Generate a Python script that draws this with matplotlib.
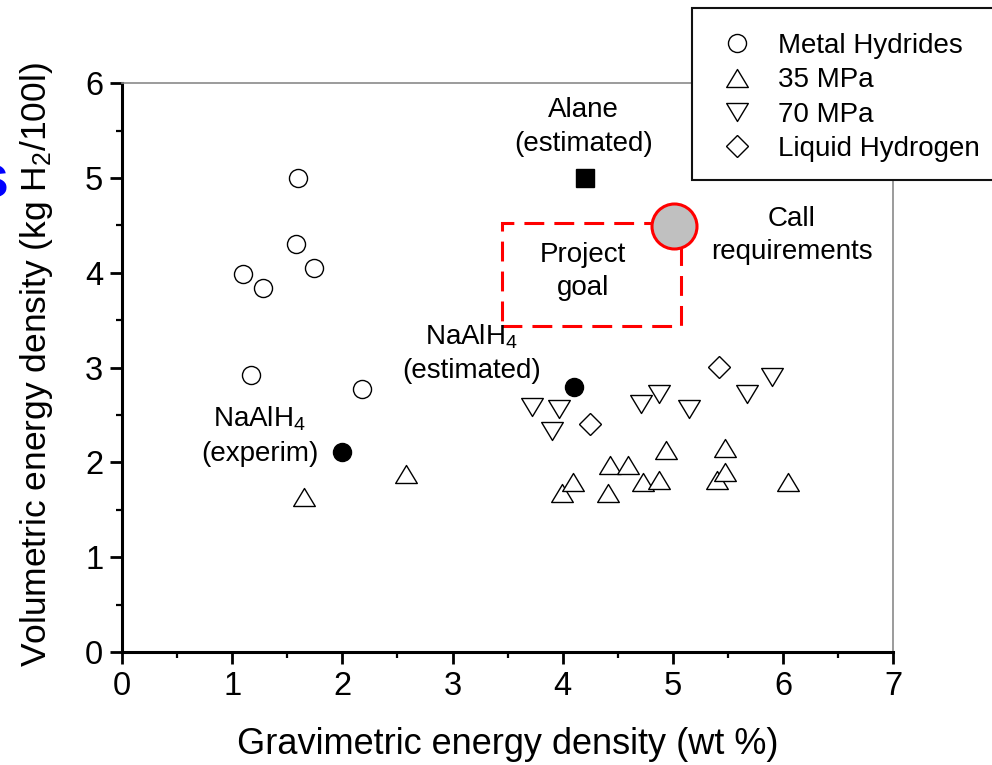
import matplotlib
matplotlib.use("Agg")
import matplotlib.pyplot as plt
from matplotlib.path import Path
from matplotlib.patches import Rectangle
import numpy as np

plt.rcParams['font.family'] = ['Liberation Sans', 'DejaVu Sans']
plt.rcParams['mathtext.default'] = 'regular'

# ---------------- data ----------------
metal_x = [1.60, 1.58, 1.10, 1.28, 1.745, 1.17, 2.18]
metal_y = [5.00, 4.30, 3.99, 3.84, 4.05, 2.92, 2.77]

mpa35_x = [3.99, 4.09, 4.41, 4.43, 4.59, 4.73, 4.87, 4.94, 5.40, 5.47, 5.47, 6.04, 1.65, 2.58]
mpa35_y = [1.68, 1.79, 1.68, 1.97, 1.97, 1.79, 1.81, 2.13, 1.81, 2.15, 1.90, 1.79, 1.64, 1.88]

mpa70_x = [3.72, 3.97, 3.90, 4.71, 4.87, 5.15, 5.67, 5.90]
mpa70_y = [2.59, 2.56, 2.33, 2.62, 2.72, 2.56, 2.72, 2.90]

lh2_x = [5.42, 4.25]
lh2_y = [3.01, 2.41]

naalh4_x = [2.00, 4.10]
naalh4_y = [2.11, 2.80]

alane_x = [4.20]
alane_y = [5.00]

call_x = [5.01]
call_y = [4.49]

goal_x = [3.45, 5.07]
goal_y = [3.44, 4.53]

legend_labels = ["Metal Hydrides", "35 MPa", "70 MPa", "Liquid Hydrogen"]
x_ticks = [0, 1, 2, 3, 4, 5, 6, 7]
y_ticks = [0, 1, 2, 3, 4, 5, 6]

# ---------------- figure ----------------
W, H = 992, 765
fig = plt.figure(figsize=(W / 100, H / 100), dpi=100)
ax = fig.add_axes([122 / W, 1 - 652 / H, (893.3 - 122) / W, (652 - 83.3) / H])

tri_up = Path([(0, 0.83), (-1, -0.83), (1, -0.83), (0, 0.83)],
              [Path.MOVETO, Path.LINETO, Path.LINETO, Path.CLOSEPOLY])
tri_dn = Path([(0, -0.83), (-1, 0.83), (1, 0.83), (0, -0.83)],
              [Path.MOVETO, Path.LINETO, Path.LINETO, Path.CLOSEPOLY])

mk = dict(linestyle='none', markerfacecolor='white', markeredgecolor='black', markeredgewidth=1.0)
h1, = ax.plot(metal_x, metal_y, marker='o', markersize=13, **mk)
h2, = ax.plot(mpa35_x, mpa35_y, marker=tri_up, markersize=15.6, **mk)
h3, = ax.plot(mpa70_x, mpa70_y, marker=tri_dn, markersize=15.6, **mk)
h4, = ax.plot(lh2_x, lh2_y, marker='D', markersize=11.4, **mk)

ax.plot(naalh4_x, naalh4_y, linestyle='none', marker='o', markersize=13,
        markerfacecolor='black', markeredgecolor='black')
ax.plot(alane_x, alane_y, linestyle='none', marker='s', markersize=12.8,
        markerfacecolor='black', markeredgecolor='black')

ax.add_patch(Rectangle((goal_x[0], goal_y[0]), goal_x[1] - goal_x[0], goal_y[1] - goal_y[0],
                       fill=False, edgecolor='#ff0000', linewidth=2.2,
                       linestyle=(0, (6.5, 3.3)), zorder=3))
ax.plot(call_x, call_y, linestyle='none', marker='o', markersize=32.4,
        markerfacecolor='#c0c0c0', markeredgecolor='#ff0000', markeredgewidth=2.2, zorder=4)

tfs = 20
ls = 1.38
ax.text(4.19, 5.54, "Alane\n(estimated)", ha='center', va='center', fontsize=tfs, linespacing=ls)
ax.text(4.18, 4.015, "Project\ngoal", ha='center', va='center', fontsize=tfs, linespacing=ls)
ax.text(6.08, 4.395, "Call\nrequirements", ha='center', va='center', fontsize=tfs, linespacing=ls)
ax.text(3.17, 3.15, "NaAlH$_4$\n(estimated)", ha='center', va='center', fontsize=tfs, linespacing=ls)
ax.text(1.25, 2.28, "NaAlH$_4$\n(experim)", ha='center', va='center', fontsize=tfs, linespacing=ls)

ax.set_xlim(0, 7)
ax.set_ylim(0, 6)
ax.set_xticks(x_ticks)
ax.set_yticks(y_ticks)
ax.set_xticks(np.arange(0.5, 7, 1.0), minor=True)
ax.set_yticks(np.arange(0.5, 6, 1.0), minor=True)
ax.tick_params(which='major', direction='out', length=8.5, width=2.0, labelsize=23.5, pad=5)
ax.tick_params(which='minor', direction='out', length=4.5, width=1.6)
ax.tick_params(top=False, right=False, which='both')
for s in ['left', 'bottom']:
    ax.spines[s].set_linewidth(2.2)
    ax.spines[s].set_color('black')
for s in ['top', 'right']:
    ax.spines[s].set_linewidth(1.2)
    ax.spines[s].set_color('#8a8a8a')

fig.text(508 / W, 1 - 745 / H, "Gravimetric energy density (wt %)", ha='center', va='center', fontsize=26)
fig.text(37 / W, 1 - 365 / H, "Volumetric energy density (kg H$_2$/100l)", ha='center', va='center',
         rotation=90, fontsize=25.5)

# legend frame
fig.patches.append(Rectangle((692 / W, 1 - 180 / H), (1020 - 692) / W, (180 - 8) / H,
                             transform=fig.transFigure, facecolor='white', edgecolor='#111111',
                             linewidth=1.5, zorder=5))
leg = fig.legend([h1, h2, h3, h4], legend_labels, loc='upper left',
                 bbox_to_anchor=(723 / W, 1 - 33 / H), frameon=False, fontsize=20,
                 handlelength=1.0, handletextpad=0.98, labelspacing=0.3, borderpad=0,
                 borderaxespad=0)
leg.set_zorder(6)

# partially visible blue glyph at the left edge
fig.text(9 / W, 1 - 182 / H, "s", ha='right', va='center', fontsize=44, fontweight='bold', color='#0000ff')

fig.savefig("out.png", dpi=100)
